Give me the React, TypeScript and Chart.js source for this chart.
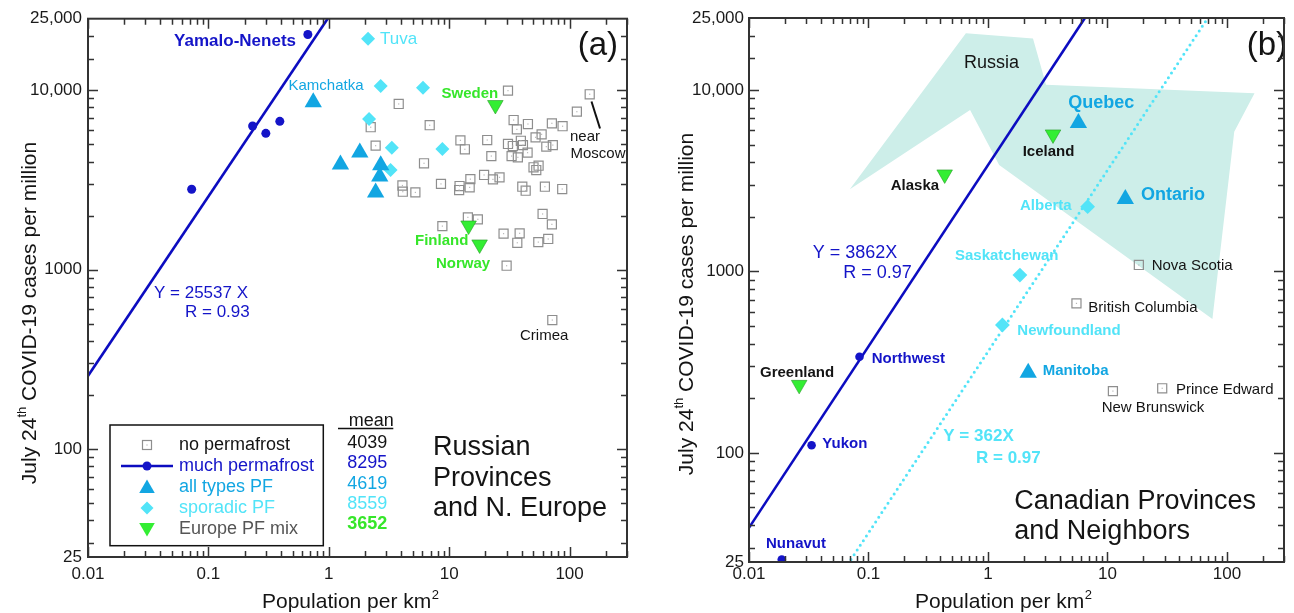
import React, { useEffect, useRef } from "react";
import { Chart, registerables } from "chart.js";
Chart.register(...registerables);

const FONT = '"Liberation Sans", Arial, Helvetica, sans-serif';

const C_BLUE = "#1414c8";
const C_LINE = "#0c0cc0";
const C_ALL = "#12a6e2";
const C_SPOR = "#52e4f8";
const C_GREEN = "#33ee33";
const C_GREEN_T = "#36e62a";
const C_SQ = "#8e8e8e";
const C_POLY = "#cdeee9";
const C_TXT = "#141414";

// ---- axes ----
const X_MIN = 0.01;
const X_MAX = 300;
const Y_MIN = 25;
const Y_MAX = 25000;
const X_TICKS = [0.01, 0.1, 1, 10, 100];
const X_TICK_LABELS = ["0.01", "0.1", "1", "10", "100"];
const Y_TICKS = [25, 100, 1000, 10000, 25000];
const Y_TICK_LABELS = ["25", "100", "1000", "10,000", "25,000"];

// ---- panel (a): Russian provinces and N. Europe ----
const A_NOPF_X = [2.23, 2.45, 3.81, 4.09, 4.12, 5.24, 6.18, 6.89, 8.55, 8.78, 12.4, 13.5, 12.2, 12.1, 14.8, 15.0, 14.3, 17.3, 19.5, 20.7, 22.4, 23.1, 26.2, 28.3, 30.0, 30.8, 30.8, 33.8, 33.0, 34.3, 36.5, 36.8, 37.2, 38.5, 39.4, 40.5, 41.0, 43.2, 45.1, 44.8, 50.2, 52.9, 52.2, 55.0, 58.6, 59.7, 62.4, 64.1, 66.5, 71.3, 71.3, 72.6, 86.9, 87.5, 115, 147, 71.9, 55.3];
const A_NOPF_Y = [6210, 4900, 8370, 2940, 2715, 2690, 3910, 6370, 3000, 1746, 5250, 4680, 2920, 2775, 2870, 3190, 1954, 1905, 3365, 5270, 4290, 3180, 3265, 1585, 1050, 9930, 5010, 4880, 4290, 6810, 6040, 1410, 4220, 1592, 5220, 2895, 4940, 2750, 6470, 4480, 3715, 3585, 5455, 1422, 5670, 2040, 2895, 4840, 1480, 6530, 1786, 4940, 2810, 6290, 7580, 9480, 523, 3790];
const A_MUCH_X = [0.0726, 0.233, 0.3, 0.392, 0.67];
const A_MUCH_Y = [2800, 6310, 5740, 6700, 20400];
const A_ALL_X = [0.743, 1.81, 1.25, 2.7, 2.65, 2.45];
const A_ALL_Y = [8550, 4490, 3850, 3810, 3300, 2690];
const A_SPOR_X = [2.12, 2.7, 6.06, 2.16, 3.34, 8.78, 3.26];
const A_SPOR_Y = [19300, 10540, 10300, 6900, 4780, 4700, 3590];
const A_EUR_X = [24.2, 14.5, 17.9];
const A_EUR_Y = [8260, 1760, 1380];
const A_FIT_SLOPE = 25537;
const A_FIT_RANGE = [0.005, 2];
const A_MEANS = ["4039", "8295", "4619", "8559", "3652"];

// ---- panel (b): Canadian provinces and neighbours ----
const B_NOPF_X = [18.3, 5.5, 11.1, 28.7];
const B_NOPF_Y = [1086, 667, 219, 227];
const B_MUCH_X = [0.0188, 0.0334, 0.0841];
const B_MUCH_Y = [25.8, 110, 339];
const B_ALL_X = [5.71, 14.1, 2.17];
const B_ALL_Y = [6590, 2510, 276];
const B_SPOR_X = [6.82, 1.85, 1.32];
const B_SPOR_Y = [2277, 956, 507];
const B_EUR_X = [3.5, 0.434, 0.0263];
const B_EUR_Y = [5700, 3430, 237];
const B_RUSSIA_X = [0.0698, 0.653, 2.38, 3.06, 170, 115, 75.5, 1.24, 0.708, 0.0698];
const B_RUSSIA_Y = [2840, 20600, 19300, 10700, 9610, 5900, 547, 3865, 7780, 2840];
const B_FIT1_SLOPE = 3862;
const B_FIT1_RANGE = [0.005, 20];
const B_FIT2_SLOPE = 362;
const B_FIT2_RANGE = [0.05, 200];

const pts = (xs: number[], ys: number[]) => xs.map((x, i) => ({ x, y: ys[i] }));
const fitPts = (range: number[], slope: number) => range.map((x) => ({ x, y: slope * x }));

type Ann = [string, number, number, number, boolean, string, CanvasTextAlign?];

const A_TEXTS: Ann[] = [
  ["Yamalo-Nenets", 296, 41, 17, true, C_BLUE, "right"],
  ["Tuva", 380, 39, 17, false, C_SPOR],
  ["Kamchatka", 288.5, 86, 15, false, C_ALL],
  ["Sweden", 441.5, 94, 15, true, C_GREEN_T],
  ["near", 570, 137, 15, false, C_TXT],
  ["Moscow", 570.5, 153.5, 15, false, C_TXT],
  ["Finland", 415, 241, 15, true, C_GREEN_T],
  ["Norway", 436, 264, 15, true, C_GREEN_T],
  ["Crimea", 520, 336, 15, false, C_TXT],
  ["(a)", 618, 46, 33, false, C_TXT, "right"],
  ["Y = 25537 X", 154, 293, 17, false, C_BLUE],
  ["R = 0.93", 185, 312, 17, false, C_BLUE],
];

const B_TEXTS: Ann[] = [
  ["Russia", 964, 63.5, 18, false, C_TXT],
  ["Quebec", 1068.3, 103, 18, true, C_ALL],
  ["Iceland", 1022.7, 151.5, 15, true, C_TXT],
  ["Ontario", 1141, 195, 18, true, C_ALL],
  ["Alberta", 1020, 206, 15, true, C_SPOR],
  ["Saskatchewan", 955, 256, 15, true, C_SPOR],
  ["Nova Scotia", 1151.7, 265.5, 15, false, C_TXT],
  ["British Columbia", 1088.3, 308, 15, false, C_TXT],
  ["Newfoundland", 1017.3, 331, 15, true, C_SPOR],
  ["Manitoba", 1042.7, 371, 15, true, C_ALL],
  ["Prince Edward", 1176, 390, 15, false, C_TXT],
  ["New Brunswick", 1101.7, 407.5, 15, false, C_TXT],
  ["Y = 3862X", 812.7, 253, 18, false, C_BLUE],
  ["R = 0.97", 843.3, 273, 18, false, C_BLUE],
  ["Y = 362X", 943.3, 436.5, 17, true, C_SPOR],
  ["R = 0.97", 976, 458, 17, true, C_SPOR],
  ["Alaska", 890.7, 186, 15, true, C_TXT],
  ["Greenland", 760, 373, 15, true, C_TXT],
  ["Northwest", 871.7, 359, 15, true, C_BLUE],
  ["Yukon", 822.3, 444, 15, true, C_BLUE],
  ["Nunavut", 766, 544, 15, true, C_BLUE],
  ["(b)", 1287, 46, 33, false, C_TXT, "right"],
];

function drawTexts(ctx: CanvasRenderingContext2D, list: Ann[]) {
  ctx.textBaseline = "middle";
  for (const [t, x, y, size, bold, color, align] of list) {
    ctx.font = `${bold ? "bold " : ""}${size}px ${FONT}`;
    ctx.fillStyle = color;
    ctx.textAlign = align || "left";
    ctx.fillText(t, x, y);
  }
}

function triPath(ctx: CanvasRenderingContext2D, x: number, y: number, r: number, down: boolean) {
  const s = down ? -1 : 1;
  ctx.beginPath();
  ctx.moveTo(x, y - s * r);
  ctx.lineTo(x + r * 0.866, y + s * r * 0.5);
  ctx.lineTo(x - r * 0.866, y + s * r * 0.5);
  ctx.closePath();
}

function drawYTitle(ctx: CanvasRenderingContext2D, cx: number, cy: number) {
  ctx.save();
  ctx.translate(cx, cy);
  ctx.rotate(-Math.PI / 2);
  const big = `21px ${FONT}`;
  const small = `13px ${FONT}`;
  const p1 = "July 24";
  const p2 = "th";
  const p3 = " COVID-19 cases per million";
  ctx.font = big;
  const w1 = ctx.measureText(p1).width;
  const w3 = ctx.measureText(p3).width;
  ctx.font = small;
  const w2 = ctx.measureText(p2).width;
  let u = -(w1 + w2 + w3) / 2;
  ctx.textBaseline = "middle";
  ctx.textAlign = "left";
  ctx.fillStyle = C_TXT;
  ctx.font = big;
  ctx.fillText(p1, u, 0);
  u += w1;
  ctx.font = small;
  ctx.fillText(p2, u, -8);
  u += w2;
  ctx.font = big;
  ctx.fillText(p3, u, 0);
  ctx.restore();
}

function drawXTitle(ctx: CanvasRenderingContext2D, x: number, base: number) {
  ctx.save();
  ctx.textBaseline = "alphabetic";
  ctx.textAlign = "left";
  ctx.fillStyle = C_TXT;
  ctx.font = `21px ${FONT}`;
  const t = "Population per km";
  ctx.fillText(t, x, base);
  const w = ctx.measureText(t).width;
  ctx.font = `13px ${FONT}`;
  ctx.fillText("2", x + w + 0.5, base - 9);
  ctx.restore();
}

function drawFrame(chart: any) {
  const { ctx, chartArea: a, scales } = chart;
  const xs = scales.x;
  const ys = scales.y;
  ctx.save();
  ctx.strokeStyle = "#333";
  ctx.lineWidth = 1.5;
  ctx.beginPath();
  for (let e = -2; e <= 2; e++) {
    for (let m = 1; m <= 9; m++) {
      const v = m * Math.pow(10, e);
      if (v > X_MAX * 1.0001 || v < X_MIN * 0.999) continue;
      const px = Math.round(xs.getPixelForValue(v)) + 0.5;
      const len = m === 1 ? 10 : 6;
      ctx.moveTo(px, a.bottom);
      ctx.lineTo(px, a.bottom - len);
      ctx.moveTo(px, a.top);
      ctx.lineTo(px, a.top + len);
    }
  }
  const yv: number[] = [15000];
  for (let e = 1; e <= 4; e++) for (let m = 1; m <= 9; m++) yv.push(m * Math.pow(10, e));
  for (const v of yv) {
    if (v < Y_MIN || v > Y_MAX) continue;
    const py = Math.round(ys.getPixelForValue(v)) + 0.5;
    const major = [100, 1000, 10000].includes(v);
    const len = major ? 10 : 6;
    ctx.moveTo(a.left, py);
    ctx.lineTo(a.left + len, py);
    ctx.moveTo(a.right, py);
    ctx.lineTo(a.right - len, py);
  }
  ctx.stroke();
  ctx.lineWidth = 2;
  ctx.strokeRect(a.left, a.top, a.right - a.left, a.bottom - a.top);
  ctx.restore();
}

function drawSquareDots(chart: any, idx: number) {
  const { ctx } = chart;
  const meta = chart.getDatasetMeta(idx);
  ctx.save();
  ctx.fillStyle = "#b8b8b8";
  for (const el of meta.data) ctx.fillRect(el.x - 0.6, el.y - 0.6, 1.2, 1.2);
  ctx.restore();
}

function drawLegendA(ctx: CanvasRenderingContext2D) {
  ctx.save();
  ctx.strokeStyle = "#111";
  ctx.lineWidth = 1.5;
  ctx.strokeRect(110, 425, 213.3, 120.7);
  const sx = 147;
  // square
  ctx.strokeStyle = C_SQ;
  ctx.lineWidth = 1.2;
  ctx.strokeRect(sx - 4.5, 445 - 4.5, 9, 9);
  ctx.fillStyle = "#b8b8b8";
  ctx.fillRect(sx - 0.6, 444.4, 1.2, 1.2);
  // line + dot
  ctx.strokeStyle = C_LINE;
  ctx.lineWidth = 2.6;
  ctx.beginPath();
  ctx.moveTo(121, 466);
  ctx.lineTo(173, 466);
  ctx.stroke();
  ctx.fillStyle = C_BLUE;
  ctx.beginPath();
  ctx.arc(sx, 466, 4.5, 0, Math.PI * 2);
  ctx.fill();
  // triangle
  ctx.fillStyle = C_ALL;
  triPath(ctx, sx, 488.5, 9, false);
  ctx.fill();
  // diamond
  ctx.fillStyle = C_SPOR;
  ctx.beginPath();
  ctx.moveTo(sx, 508 - 6.5);
  ctx.lineTo(sx + 6.5, 508);
  ctx.lineTo(sx, 508 + 6.5);
  ctx.lineTo(sx - 6.5, 508);
  ctx.closePath();
  ctx.fill();
  // down triangle
  ctx.fillStyle = C_GREEN;
  triPath(ctx, sx, 527.5, 9, true);
  ctx.fill();
  const rows: [string, number, string][] = [
    ["no permafrost", 445, C_TXT],
    ["much permafrost", 466, C_BLUE],
    ["all types PF", 487, C_ALL],
    ["sporadic PF", 508, C_SPOR],
    ["Europe PF mix", 529, "#555"],
  ];
  ctx.textBaseline = "middle";
  ctx.textAlign = "left";
  ctx.font = `18px ${FONT}`;
  for (const [t, y, c] of rows) {
    ctx.fillStyle = c;
    ctx.fillText(t, 179, y);
  }
  // mean table
  ctx.textBaseline = "alphabetic";
  ctx.fillStyle = C_TXT;
  ctx.fillText("mean", 348.7, 425.5);
  ctx.strokeStyle = "#111";
  ctx.lineWidth = 1.5;
  ctx.beginPath();
  ctx.moveTo(338, 428.5);
  ctx.lineTo(393.3, 428.5);
  ctx.stroke();
  const mColors = [C_TXT, C_BLUE, C_ALL, C_SPOR, C_GREEN_T];
  const mBase = [448, 468.3, 488.5, 508.5, 529];
  ctx.textAlign = "right";
  A_MEANS.forEach((m, i) => {
    ctx.font = `${i === 4 ? "bold " : ""}18px ${FONT}`;
    ctx.fillStyle = mColors[i];
    ctx.fillText(m, 387.3, mBase[i]);
  });
  // panel caption
  ctx.textAlign = "left";
  ctx.fillStyle = C_TXT;
  ctx.font = `27px ${FONT}`;
  ctx.fillText("Russian", 433, 455);
  ctx.fillText("Provinces", 433, 485.5);
  ctx.fillText("and N. Europe", 433, 516);
  // pointer near Moscow
  ctx.strokeStyle = "#111";
  ctx.lineWidth = 2;
  ctx.beginPath();
  ctx.moveTo(591.5, 101.5);
  ctx.lineTo(600, 128.5);
  ctx.stroke();
  ctx.restore();
}

interface Panel {
  name: string;
  offset: number;
  yW: number;
  xH: number;
  top: number;
  right: number;
  xPad: number;
  yPad: number;
  datasets: any[];
  squareIdx: number;
  extra: (ctx: CanvasRenderingContext2D) => void;
}

function overlay(p: Panel) {
  return {
    id: "overlay_" + p.name,
    afterDatasetsDraw(chart: any) {
      drawSquareDots(chart, p.squareIdx);
      const ctx: CanvasRenderingContext2D = chart.ctx;
      ctx.save();
      ctx.translate(-p.offset, 0);
      p.extra(ctx);
      ctx.restore();
    },
    afterDraw(chart: any) {
      drawFrame(chart);
    },
  };
}

function buildConfig(p: Panel): any {
  return {
    type: "scatter",
    data: { datasets: p.datasets },
    options: {
      animation: false,
      responsive: false,
      maintainAspectRatio: false,
      layout: { padding: { left: 0, top: p.top, right: p.right, bottom: 0 } },
      plugins: { legend: { display: false }, tooltip: { enabled: false } },
      scales: {
        x: {
          type: "logarithmic",
          min: X_MIN,
          max: X_MAX,
          position: "bottom",
          grid: { display: false, drawTicks: false },
          border: { display: false },
          afterBuildTicks: (s: any) => {
            s.ticks = X_TICKS.map((v) => ({ value: v }));
          },
          afterFit: (s: any) => {
            s.height = p.xH;
          },
          ticks: {
            autoSkip: false,
            maxRotation: 0,
            padding: p.xPad,
            color: "#1a1a1a",
            font: { family: FONT, size: 17 },
            callback: (v: any) => {
              const i = X_TICKS.indexOf(Number(v));
              return i >= 0 ? X_TICK_LABELS[i] : "";
            },
          },
        },
        y: {
          type: "logarithmic",
          min: Y_MIN,
          max: Y_MAX,
          position: "left",
          grid: { display: false, drawTicks: false },
          border: { display: false },
          afterBuildTicks: (s: any) => {
            s.ticks = Y_TICKS.map((v) => ({ value: v }));
          },
          afterFit: (s: any) => {
            s.width = p.yW;
          },
          ticks: {
            autoSkip: false,
            padding: p.yPad,
            color: "#1a1a1a",
            font: { family: FONT, size: 17 },
            callback: (v: any) => {
              const i = Y_TICKS.indexOf(Number(v));
              return i >= 0 ? Y_TICK_LABELS[i] : "";
            },
          },
        },
      },
    },
    plugins: [overlay(p)],
  };
}

const squareDs = (data: any[]) => ({
  label: "no permafrost",
  data,
  pointStyle: "rect",
  pointRadius: 6.4,
  backgroundColor: "rgba(255,255,255,0)",
  borderColor: C_SQ,
  borderWidth: 1.2,
  order: 5,
});

const panelA: Panel = {
  name: "a",
  offset: 0,
  yW: 88,
  xH: 56,
  top: 18.7,
  right: 20,
  xPad: 7,
  yPad: 6,
  squareIdx: 0,
  datasets: [
    squareDs(pts(A_NOPF_X, A_NOPF_Y)),
    {
      label: "fit",
      data: fitPts(A_FIT_RANGE, A_FIT_SLOPE),
      showLine: true,
      borderColor: C_LINE,
      borderWidth: 2.6,
      pointRadius: 0,
      order: 4,
    },
    { label: "much permafrost", data: pts(A_MUCH_X, A_MUCH_Y), pointStyle: "circle", pointRadius: 4.5, backgroundColor: C_BLUE, borderWidth: 0, order: 0 },
    { label: "all types PF", data: pts(A_ALL_X, A_ALL_Y), pointStyle: "triangle", pointRadius: 10, backgroundColor: C_ALL, borderWidth: 0, order: 0 },
    { label: "sporadic PF", data: pts(A_SPOR_X, A_SPOR_Y), pointStyle: "rectRot", pointRadius: 7, backgroundColor: C_SPOR, borderWidth: 0, order: 0 },
    { label: "Europe PF mix", data: pts(A_EUR_X, A_EUR_Y), pointStyle: "triangle", rotation: 180, pointRadius: 9, backgroundColor: C_GREEN, borderColor: "#2a9a2a", borderWidth: 0.6, order: 0 },
  ],
  extra: (ctx) => {
    drawTexts(ctx, A_TEXTS);
    drawLegendA(ctx);
    drawYTitle(ctx, 30, 313);
    drawXTitle(ctx, 262, 608);
  },
};

const panelB: Panel = {
  name: "b",
  offset: 647,
  yW: 102,
  xH: 51,
  top: 18,
  right: 4,
  xPad: 2,
  yPad: 5,
  squareIdx: 1,
  datasets: [
    {
      label: "Russia",
      data: pts(B_RUSSIA_X, B_RUSSIA_Y),
      showLine: true,
      fill: "shape",
      backgroundColor: C_POLY,
      borderColor: C_POLY,
      borderWidth: 0,
      pointRadius: 0,
      order: 10,
    },
    squareDs(pts(B_NOPF_X, B_NOPF_Y)),
    {
      label: "fit much",
      data: fitPts(B_FIT1_RANGE, B_FIT1_SLOPE),
      showLine: true,
      borderColor: C_LINE,
      borderWidth: 2.6,
      pointRadius: 0,
      order: 4,
    },
    {
      label: "fit sporadic",
      data: fitPts(B_FIT2_RANGE, B_FIT2_SLOPE),
      showLine: true,
      borderColor: C_SPOR,
      borderWidth: 3,
      borderDash: [0, 5.6],
      borderCapStyle: "round",
      pointRadius: 0,
      order: 4,
    },
    { label: "much permafrost", data: pts(B_MUCH_X, B_MUCH_Y), pointStyle: "circle", pointRadius: 4.3, backgroundColor: C_BLUE, borderWidth: 0, order: 0 },
    { label: "all types PF", data: pts(B_ALL_X, B_ALL_Y), pointStyle: "triangle", pointRadius: 10, backgroundColor: C_ALL, borderWidth: 0, order: 0 },
    { label: "sporadic PF", data: pts(B_SPOR_X, B_SPOR_Y), pointStyle: "rectRot", pointRadius: 7.4, backgroundColor: C_SPOR, borderWidth: 0, order: 0 },
    { label: "neighbors", data: pts(B_EUR_X, B_EUR_Y), pointStyle: "triangle", rotation: 180, pointRadius: 9, backgroundColor: C_GREEN, borderColor: "#2a9a2a", borderWidth: 0.6, order: 0 },
  ],
  extra: (ctx) => {
    drawTexts(ctx, B_TEXTS);
    ctx.save();
    ctx.textBaseline = "alphabetic";
    ctx.textAlign = "left";
    ctx.fillStyle = C_TXT;
    ctx.font = `27px ${FONT}`;
    ctx.fillText("Canadian Provinces", 1014.3, 508.5);
    ctx.fillText("and Neighbors", 1014.3, 539);
    ctx.restore();
    drawYTitle(ctx, 687, 304);
    drawXTitle(ctx, 915, 608);
  },
};

export default function App() {
  const refA = useRef<HTMLCanvasElement>(null);
  const refB = useRef<HTMLCanvasElement>(null);
  useEffect(() => {
    const a = new Chart(refA.current as HTMLCanvasElement, buildConfig(panelA));
    const b = new Chart(refB.current as HTMLCanvasElement, buildConfig(panelB));
    return () => {
      a.destroy();
      b.destroy();
    };
  }, []);
  return (
    <div style={{ position: "absolute", left: 0, top: 0, width: 1294, height: 613, background: "#fff", overflow: "hidden" }}>
      <canvas ref={refA} width={647} height={613} style={{ position: "absolute", left: 0, top: 0, width: 647, height: 613 }} />
      <canvas ref={refB} width={647} height={613} style={{ position: "absolute", left: 647, top: 0, width: 647, height: 613 }} />
    </div>
  );
}
